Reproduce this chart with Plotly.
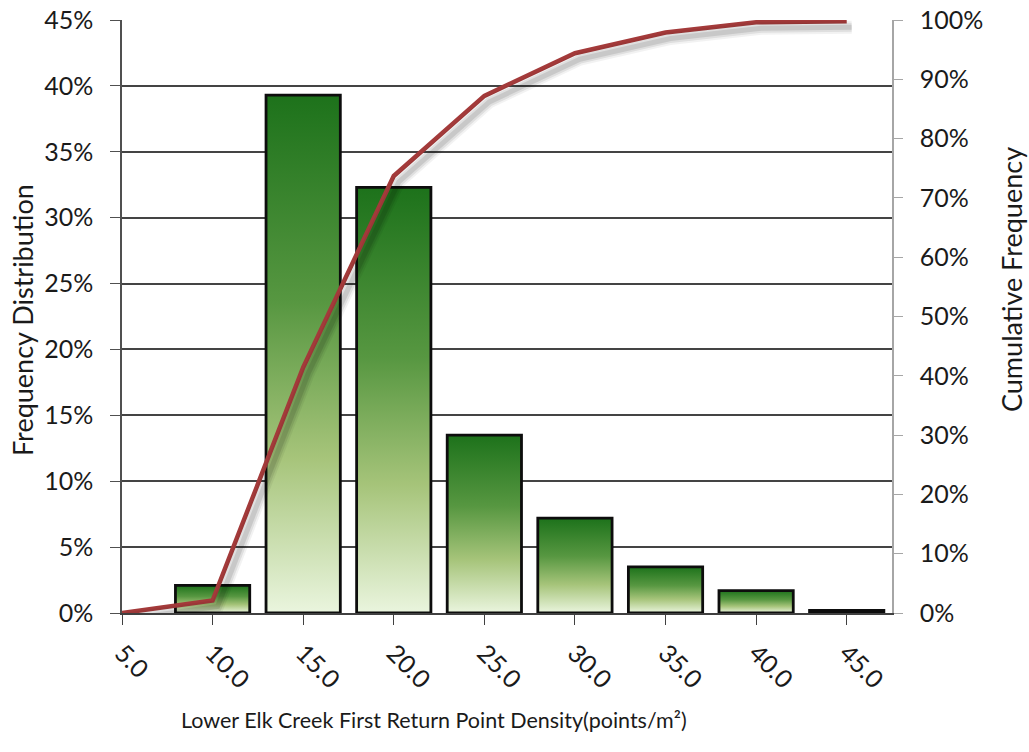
import plotly.graph_objects as go

# Histogram bins (points/m²) and their tick labels
bin_edges = [5, 10, 15, 20, 25, 30, 35, 40, 45]
bin_labels = ["5.0", "10.0", "15.0", "20.0", "25.0", "30.0", "35.0", "40.0", "45.0"]

# Bars sit on the upper edge of each bin
bar_bins = [10, 15, 20, 25, 30, 35, 40, 45]
freq_pct = [2.1, 39.3, 32.3, 13.5, 7.2, 3.5, 1.7, 0.2]

# Cumulative frequency at each bin edge
cum_pct = [0.0, 2.1, 41.4, 73.7, 87.2, 94.4, 97.9, 99.6, 99.8]

FONT = "Lato, 'Open Sans', sans-serif"
TEXT = "#1a1a1a"
TICK_SIZE = 25
XTITLE_SIZE = 21.5
YTITLE_SIZE = 27
BAR_WIDTH = 4.1
X_RANGE = [5, 47.5]

PLOT_L, PLOT_R, PLOT_T, PLOT_B = 122, 892, 20, 613
W, H = 1029, 752
plot_w = PLOT_R - PLOT_L
plot_h = PLOT_B - PLOT_T

green_scale = [
    [0.0, "#EAF5DE"],
    [0.3, "#A6C47A"],
    [0.6, "#579741"],
    [1.0, "#1D721B"],
]

fig = go.Figure()

# Each bar is a filled outline so it can carry a vertical gradient
for center, value in zip(bar_bins, freq_pct):
    half = BAR_WIDTH / 2
    fig.add_trace(go.Scatter(
        x=[center - half, center - half, center + half, center + half, center - half],
        y=[0, value, value, 0, 0],
        mode="lines",
        fill="toself",
        fillgradient=dict(type="vertical", colorscale=green_scale),
        line=dict(color="#0d0d0d", width=2.8),
        hoverinfo="skip",
        showlegend=False,
        xaxis="x", yaxis="y",
    ))

# Soft drop shadow under the cumulative line (same data on a nudged overlay axis)
shift_x = 5 * (X_RANGE[1] - X_RANGE[0]) / plot_w
shift_y = 6 * 100 / plot_h
for width, alpha in [(13, 0.05), (9, 0.08), (5, 0.10)]:
    fig.add_trace(go.Scatter(
        x=bin_edges, y=cum_pct,
        mode="lines",
        line=dict(color=f"rgba(0,0,0,{alpha})", width=width),
        hoverinfo="skip", showlegend=False,
        xaxis="x3", yaxis="y3",
    ))

# Cumulative frequency line
fig.add_trace(go.Scatter(
    x=bin_edges, y=cum_pct,
    mode="lines",
    line=dict(color="#A33A3A", width=4.5),
    showlegend=False,
    xaxis="x", yaxis="y2",
))

fig.update_layout(
    width=W, height=H,
    autosize=False,
    margin=dict(l=PLOT_L, r=W - PLOT_R, t=PLOT_T, b=H - PLOT_B, autoexpand=False),
    paper_bgcolor="white",
    plot_bgcolor="white",
    font=dict(family=FONT, size=TICK_SIZE, color=TEXT),
    xaxis=dict(
        range=X_RANGE, automargin=False,
        tickvals=bin_edges, ticktext=bin_labels,
        tickangle=45,
        ticks="outside", ticklen=10, tickwidth=1.3, tickcolor="#404040",
        ticklabelstandoff=4,
        showline=True, linecolor="#404040", linewidth=1.5,
        showgrid=False, zeroline=False,
        tickfont=dict(size=TICK_SIZE, color=TEXT),
    ),
    yaxis=dict(
        range=[0, 45], dtick=5, ticksuffix="%", automargin=False,
        ticks="outside", ticklen=10, tickwidth=1.3, tickcolor="#505050",
        ticklabelstandoff=12,
        showline=True, linecolor="#505050", linewidth=1.5,
        showgrid=True, gridcolor="#444444", gridwidth=1.5,
        zeroline=False,
        tickfont=dict(size=TICK_SIZE, color=TEXT),
    ),
    yaxis2=dict(
        range=[0, 100], dtick=10, ticksuffix="%", automargin=False,
        overlaying="y", side="right",
        ticks="outside", ticklen=9, tickwidth=1.3, tickcolor="#a6a6a6",
        ticklabelstandoff=12,
        showline=True, linecolor="#a6a6a6", linewidth=1.5,
        showgrid=False, zeroline=False,
        tickfont=dict(size=TICK_SIZE, color=TEXT),
    ),
    xaxis3=dict(
        range=[X_RANGE[0] - shift_x, X_RANGE[1] - shift_x],
        overlaying="x", visible=False, automargin=False,
    ),
    yaxis3=dict(
        range=[shift_y, 100 + shift_y],
        overlaying="y", visible=False, automargin=False,
    ),
    annotations=[
        dict(
            text="Lower Elk Creek First Return Point Density(points/m²)",
            xref="paper", yref="paper",
            x=(434 - PLOT_L) / plot_w, y=-(720 - PLOT_B) / plot_h,
            xanchor="center", yanchor="middle",
            showarrow=False, font=dict(size=XTITLE_SIZE, color=TEXT),
        ),
        dict(
            text="Frequency Distribution",
            xref="paper", yref="paper",
            x=(22 - PLOT_L) / plot_w, y=(PLOT_B - 320) / plot_h,
            xanchor="center", yanchor="middle", textangle=-90,
            showarrow=False, font=dict(size=YTITLE_SIZE, color=TEXT),
        ),
        dict(
            text="Cumulative Frequency",
            xref="paper", yref="paper",
            x=(1011 - PLOT_L) / plot_w, y=(PLOT_B - 280) / plot_h,
            xanchor="center", yanchor="middle", textangle=-90,
            showarrow=False, font=dict(size=YTITLE_SIZE, color=TEXT),
        ),
    ],
)

fig.write_html("out.html")
